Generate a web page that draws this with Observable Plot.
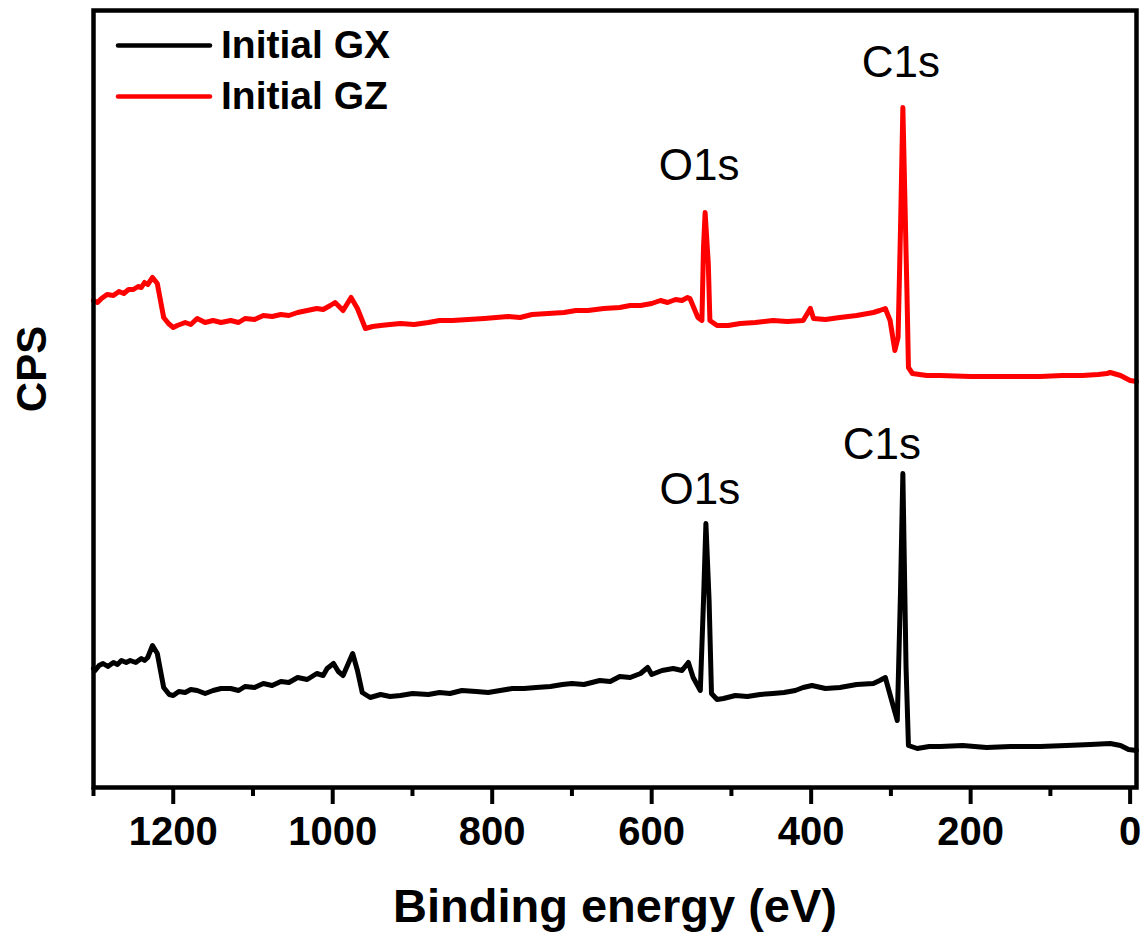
<!DOCTYPE html>
<html>
<head>
<meta charset="utf-8">
<script src="https://cdn.jsdelivr.net/npm/d3@7"></script>
<script src="https://cdn.jsdelivr.net/npm/@observablehq/plot@0.6"></script>
<style>
  html, body { margin: 0; padding: 0; background: #fff; }
  #chart { position: relative; width: 1143px; height: 939px; }
  #legend { position: absolute; left: 0; top: 0; pointer-events: none; }
  svg text { font-family: "Liberation Sans", Arial, sans-serif; }
</style>
</head>
<body>
<div id="chart"></div>
<script>
// XPS survey spectra: binding energy (eV) vs counts per second
const seriesNames = ["Initial GX", "Initial GZ"];
const seriesColors = ["#000000", "#ff0000"];

const gxEnergy = [1300, 1298, 1293, 1288, 1282, 1275, 1270, 1265, 1259, 1254, 1247, 1240, 1236, 1232, 1226, 1220, 1212, 1205, 1200, 1193, 1185, 1178, 1170, 1160, 1150, 1140, 1128, 1118, 1110, 1098, 1087, 1076, 1065, 1055, 1044, 1032, 1020, 1012, 1007, 999, 993, 987, 981, 975, 969, 963, 953, 940, 928, 915, 900, 880, 866, 853, 838, 820, 805, 790, 775, 760, 745, 727, 712, 700, 685, 665, 652, 640, 627, 614, 605, 600, 587, 573, 562, 554, 548, 539, 535, 532, 528, 525, 518, 510, 495, 480, 464, 448, 434, 420, 410, 399, 382, 364, 343, 322, 314, 307, 298, 292, 288, 285, 281, 278, 267, 252, 238, 210, 180, 150, 113, 80, 50, 25, 12, 2, -8];
const gxCounts = [23800, 23400, 24400, 24800, 24200, 25000, 24600, 25400, 25000, 25400, 25000, 25800, 25400, 26000, 28400, 26800, 20000, 18600, 18400, 19200, 19000, 19600, 19400, 18800, 19400, 19800, 19800, 19400, 20200, 20000, 20800, 20400, 21200, 21000, 22000, 21600, 22800, 22400, 23800, 24800, 23200, 22400, 24600, 26800, 23400, 19000, 18000, 18600, 18200, 18400, 18800, 18600, 19000, 18800, 19400, 19200, 19000, 19400, 19800, 19800, 20000, 20200, 20600, 20800, 20600, 21400, 21200, 22200, 22000, 22800, 24000, 22600, 23400, 23800, 23400, 25000, 22000, 19400, 37400, 52800, 37400, 18800, 17600, 17800, 18400, 18200, 18600, 18800, 19000, 19400, 20000, 20400, 19800, 20000, 20600, 20800, 21400, 22000, 16800, 13400, 38800, 62800, 24000, 8400, 7800, 8200, 8200, 8400, 8000, 8200, 8200, 8400, 8600, 8800, 8400, 7600, 7400];

const gzEnergy = [1300, 1295, 1290, 1283, 1275, 1268, 1262, 1256, 1250, 1244, 1240, 1236, 1232, 1226, 1220, 1212, 1206, 1200, 1195, 1185, 1178, 1170, 1160, 1150, 1140, 1128, 1118, 1110, 1098, 1087, 1076, 1065, 1055, 1044, 1032, 1020, 1012, 1003, 997, 992, 987, 977, 969, 959, 950, 940, 928, 915, 898, 880, 866, 850, 830, 810, 795, 780, 765, 750, 730, 710, 695, 680, 660, 640, 627, 614, 600, 589, 580, 570, 562, 555, 552, 542, 537, 535, 533, 529, 527, 518, 504, 489, 470, 448, 430, 410, 401, 397, 382, 364, 343, 322, 314, 307, 301, 295, 291, 288, 285, 280, 278, 273, 255, 238, 200, 150, 113, 85, 60, 40, 29, 25, 12, 0, -8];
const gzCounts = [97400, 97000, 97800, 98600, 98400, 99200, 98800, 99600, 99600, 100200, 100000, 101000, 100600, 102000, 100800, 94000, 92800, 92000, 92400, 93000, 92600, 93800, 93000, 93400, 93000, 93400, 93000, 93800, 93600, 94400, 94200, 94600, 94400, 95000, 95400, 95800, 95600, 96400, 97000, 96200, 95400, 98000, 95800, 91800, 92200, 92400, 92600, 92800, 92600, 93000, 93400, 93400, 93600, 93800, 94000, 94200, 94000, 94600, 94800, 95000, 95400, 95400, 95800, 96000, 96400, 96400, 96800, 97400, 97000, 97600, 97400, 98000, 97800, 94000, 93400, 108000, 115000, 104800, 93400, 92400, 92400, 92800, 93000, 93400, 93200, 93400, 95800, 93800, 93600, 94000, 94400, 95000, 95400, 95800, 93400, 87400, 90000, 111400, 136000, 100000, 84000, 82800, 82400, 82400, 82200, 82200, 82200, 82400, 82400, 82600, 82800, 83000, 82400, 81400, 81200];

// Peak assignments and the position of each label relative to its peak top
const peakNames = ["O1s", "C1s", "O1s", "C1s"];
const peakSeries = [0, 0, 1, 1];
const peakEnergy = [532, 285, 533, 285];
const peakDx = [-6, -21, -6, -2];
const peakDy = [-20, -15, -33, -31];

const majorTicks = [1200, 1000, 800, 600, 400, 200, 0];
const minorTicks = [1300, 1100, 900, 700, 500, 300, 100];

const toRows = (es, cs, s) => es.map((e, i) => ({energy: e, cps: cs[i], series: s}));
const gx = toRows(gxEnergy, gxCounts, seriesNames[0]);
const gz = toRows(gzEnergy, gzCounts, seriesNames[1]);
const series = [gx, gz];

const peaks = peakNames.map((name, i) => {
  const rows = series[peakSeries[i]];
  const row = rows.find(r => r.energy === peakEnergy[i]);
  return {name, energy: row.energy, cps: row.cps, dx: peakDx[i], dy: peakDy[i]};
});

const font = '"Liberation Sans", Arial, sans-serif';

const chart = Plot.plot({
  width: 1143,
  height: 939,
  marginLeft: 93,
  marginRight: 7,
  marginTop: 10,
  marginBottom: 152,
  style: {fontFamily: font, background: "#fff", overflow: "visible"},
  x: {domain: [1300, -8]},
  y: {domain: [0, 155400], axis: null},
  marks: [
    Plot.axisX({ticks: minorTicks, tickSize: 9, strokeWidth: 4, tickFormat: () => "", label: null}),
    Plot.axisX({ticks: majorTicks, tickSize: 17, strokeWidth: 4, tickPadding: 12,
                tickFormat: d => String(d),
                fontSize: 40, fontWeight: "bold", fill: "#000", label: null}),
    Plot.line(gx, {x: "energy", y: "cps", stroke: seriesColors[0], strokeWidth: 5,
                   strokeLinejoin: "round", strokeLinecap: "round"}),
    Plot.line(gz, {x: "energy", y: "cps", stroke: seriesColors[1], strokeWidth: 5,
                   strokeLinejoin: "round", strokeLinecap: "round"}),
    ...peaks.map(p => Plot.text([p], {x: "energy", y: "cps", text: "name", dx: p.dx, dy: p.dy,
                   lineAnchor: "bottom", textAnchor: "middle", fontSize: 44, fontWeight: "normal", fill: "#000"})),
    Plot.text(["Binding energy (eV)"], {frameAnchor: "bottom", dy: 134, lineAnchor: "bottom",
                   textAnchor: "middle", fontSize: 47, fontWeight: "bold", fill: "#000"}),
    Plot.text(["CPS"], {frameAnchor: "left", dx: -61, dy: -30, rotate: -90, lineAnchor: "middle",
                   textAnchor: "middle", fontSize: 42, fontWeight: "bold", fill: "#000"}),
    Plot.frame({stroke: "#000", strokeWidth: 4.5})
  ]
});

const container = document.getElementById("chart");
container.appendChild(chart);

// Legend inside the top-left corner of the frame
const legend = d3.select(container).append("svg")
  .attr("id", "legend").attr("width", 420).attr("height", 130);
seriesNames.forEach((name, i) => {
  const cy = 45.5 + i * 51;
  legend.append("line")
    .attr("x1", 118).attr("x2", 210).attr("y1", cy).attr("y2", cy)
    .attr("stroke", seriesColors[i]).attr("stroke-width", 4.5).attr("stroke-linecap", "round");
  legend.append("text")
    .attr("x", 221).attr("y", cy + 12)
    .attr("font-size", 39).attr("font-weight", "bold").attr("fill", "#000")
    .text(name);
});
</script>
</body>
</html>
